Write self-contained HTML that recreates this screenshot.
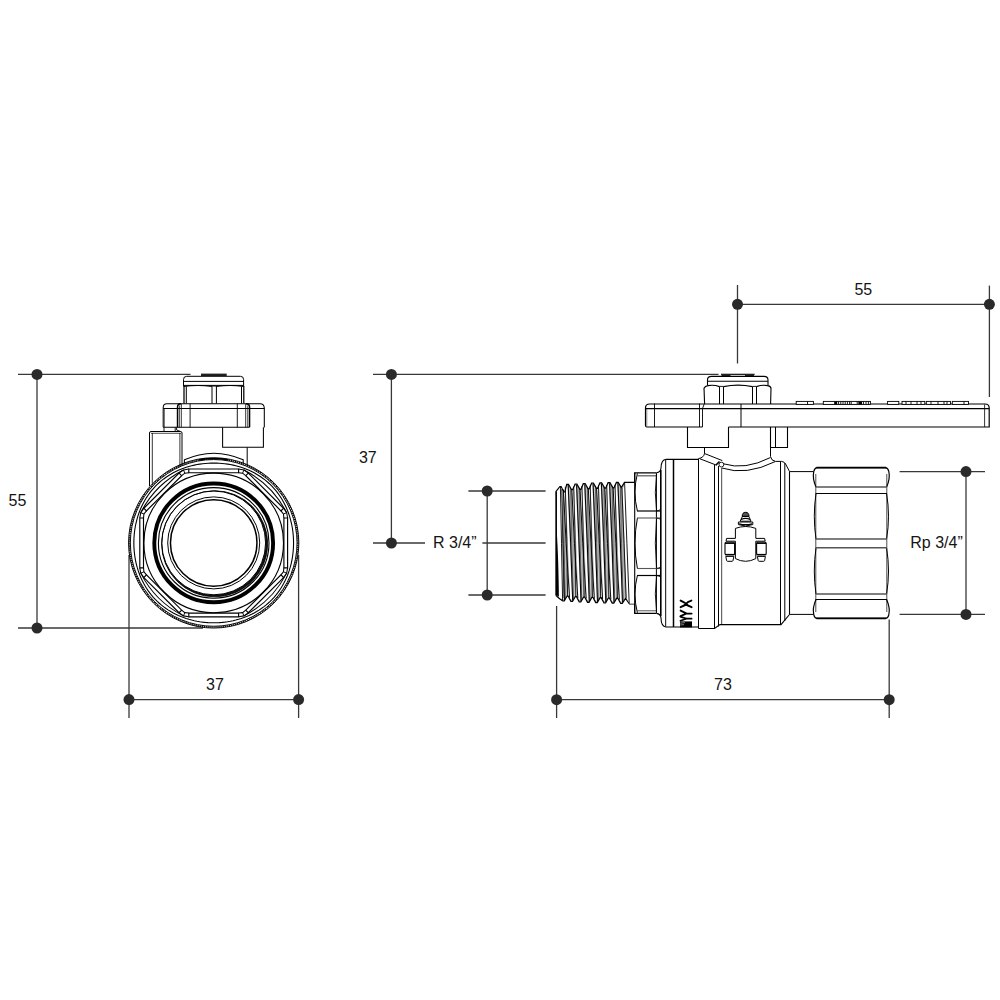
<!DOCTYPE html>
<html><head><meta charset="utf-8"><title>Ball valve dimensions</title>
<style>
html,body{margin:0;padding:0;background:#fff;}
body{width:1000px;height:1000px;overflow:hidden;font-family:"Liberation Sans",sans-serif;}
svg{display:block;font-family:"Liberation Sans",sans-serif;}
</style></head><body>
<svg width="1000" height="1000" viewBox="0 0 1000 1000">
<rect width="1000" height="1000" fill="#fff"/>
<g id="dims">
<line x1="18" y1="374.4" x2="190.5" y2="374.4" stroke="#383838" stroke-width="1.3" />
<line x1="18" y1="628" x2="203" y2="628" stroke="#383838" stroke-width="1.3" />
<line x1="37" y1="374.4" x2="37" y2="628" stroke="#383838" stroke-width="1.3" />
<circle cx="37" cy="374.4" r="5.5" fill="#2a2a2a"/>
<circle cx="37" cy="628" r="5.5" fill="#2a2a2a"/>
<text x="17.5" y="506" text-anchor="middle" font-size="16" fill="#141414">55</text>
<line x1="129" y1="555" x2="129" y2="718" stroke="#383838" stroke-width="1.3" />
<line x1="298.6" y1="555" x2="298.6" y2="718" stroke="#383838" stroke-width="1.3" />
<line x1="129" y1="699.6" x2="298.6" y2="699.6" stroke="#383838" stroke-width="1.3" />
<circle cx="129" cy="699.6" r="5.5" fill="#2a2a2a"/>
<circle cx="298.6" cy="699.6" r="5.5" fill="#2a2a2a"/>
<text x="215" y="689.8" text-anchor="middle" font-size="16" fill="#141414">37</text>
<line x1="373" y1="374.4" x2="718.5" y2="374.4" stroke="#383838" stroke-width="1.3" />
<line x1="391.4" y1="374.4" x2="391.4" y2="543" stroke="#383838" stroke-width="1.3" />
<line x1="373" y1="543" x2="425" y2="543" stroke="#383838" stroke-width="1.3" />
<line x1="482.4" y1="543" x2="545.6" y2="543" stroke="#383838" stroke-width="1.3" />
<circle cx="391.4" cy="374.4" r="5.5" fill="#2a2a2a"/>
<circle cx="391.4" cy="543" r="5.5" fill="#2a2a2a"/>
<text x="367.8" y="463" text-anchor="middle" font-size="16" fill="#141414">37</text>
<text x="454.8" y="547.8" text-anchor="middle" font-size="16" fill="#141414">R 3/4”</text>
<line x1="468.4" y1="491" x2="545.6" y2="491" stroke="#383838" stroke-width="1.3" />
<line x1="468.4" y1="595" x2="545.6" y2="595" stroke="#383838" stroke-width="1.3" />
<line x1="487.2" y1="491" x2="487.2" y2="595" stroke="#383838" stroke-width="1.3" />
<circle cx="487.2" cy="491" r="5.5" fill="#2a2a2a"/>
<circle cx="487.2" cy="595" r="5.5" fill="#2a2a2a"/>
<line x1="737.5" y1="285" x2="737.5" y2="363.5" stroke="#383838" stroke-width="1.3" />
<line x1="989.4" y1="285.6" x2="989.4" y2="397" stroke="#383838" stroke-width="1.3" />
<line x1="737.5" y1="304.3" x2="989.4" y2="304.3" stroke="#383838" stroke-width="1.3" />
<circle cx="737.5" cy="304.3" r="5.5" fill="#2a2a2a"/>
<circle cx="989.4" cy="304.3" r="5.5" fill="#2a2a2a"/>
<text x="863.3" y="295" text-anchor="middle" font-size="16" fill="#141414">55</text>
<line x1="556.6" y1="606" x2="556.6" y2="718" stroke="#383838" stroke-width="1.3" />
<line x1="889.2" y1="619.5" x2="889.2" y2="718" stroke="#383838" stroke-width="1.3" />
<line x1="556.6" y1="699.7" x2="889.2" y2="699.7" stroke="#383838" stroke-width="1.3" />
<circle cx="556.6" cy="699.7" r="5.5" fill="#2a2a2a"/>
<circle cx="889.2" cy="699.7" r="5.5" fill="#2a2a2a"/>
<text x="723" y="690" text-anchor="middle" font-size="16" fill="#141414">73</text>
<line x1="899.6" y1="471.6" x2="985" y2="471.6" stroke="#383838" stroke-width="1.3" />
<line x1="899.6" y1="614.4" x2="985" y2="614.4" stroke="#383838" stroke-width="1.3" />
<line x1="966" y1="471.6" x2="966" y2="614.4" stroke="#383838" stroke-width="1.3" />
<circle cx="966" cy="471.6" r="5.5" fill="#2a2a2a"/>
<circle cx="966" cy="614.4" r="5.5" fill="#2a2a2a"/>
<text x="936.5" y="547.8" text-anchor="middle" font-size="16" fill="#141414">Rp 3/4”</text>
</g>
<g id="leftview" fill="none" stroke="#000" stroke-width="1">
<path d="M149.5,486 V433 Q149.5,431.5 151,431.5 H180.5 Q182,431.5 182,433 V466" stroke="#000" stroke-width="1" fill="none" />
<line x1="152.3" y1="433" x2="152.3" y2="483.5" stroke="#000" stroke-width="0.8" />
<line x1="179.9" y1="433" x2="179.9" y2="467" stroke="#000" stroke-width="0.8" />
<line x1="151" y1="433.3" x2="181" y2="433.3" stroke="#000" stroke-width="0.7" />
<line x1="247.2" y1="447.3" x2="247.2" y2="466" stroke="#000" stroke-width="1" />
<path d="M184.4,463.5 V459.8 Q213.7,446.6 243.2,459.8 V463.5" stroke="#000" stroke-width="1.05" fill="none" />
<path d="M199,459.9 Q213.7,457.2 228.4,459.9" stroke="#000" stroke-width="1.6" fill="none" />
<circle cx="213.7" cy="542.9" r="85.15" stroke="#000" stroke-width="0.95" fill="none"/>
<circle cx="213.7" cy="542.9" r="83.35" stroke="#000" stroke-width="0.95" fill="none"/>
<circle cx="213.7" cy="542.9" r="84.25" stroke="#000" stroke-width="1.4" fill="none" stroke-dasharray="1.3 0.8" opacity="0.95"/>
<path d="M293.55,542.90 L293.51,545.69 L293.38,548.47 L293.17,551.25 L292.88,554.03 L292.50,556.79 L292.03,559.55 L291.48,562.29 L290.83,565.02 L290.10,567.72 L289.28,570.41 L288.36,573.07 L287.35,575.69 L286.25,578.29 L285.05,580.84 L283.76,583.35 L282.38,585.81 L280.90,588.22 L279.32,590.58 L277.66,592.87 L275.91,595.10 L274.07,597.26 L272.15,599.34 L270.14,601.35 L268.06,603.27 L265.90,605.11 L263.67,606.86 L261.38,608.52 L259.02,610.10 L256.61,611.58 L254.15,612.96 L251.64,614.25 L249.09,615.45 L246.49,616.55 L243.87,617.56 L241.21,618.48 L238.52,619.30 L235.82,620.03 L233.09,620.68 L230.35,621.23 L227.59,621.70 L224.83,622.08 L222.05,622.37 L219.27,622.58 L216.49,622.71 L213.70,622.75 L210.91,622.71 L208.13,622.58 L205.35,622.37 L202.57,622.08 L199.81,621.70 L197.05,621.23 L194.31,620.68 L191.58,620.03 L188.88,619.30 L186.19,618.48 L183.53,617.56 L180.91,616.55 L178.31,615.45 L175.76,614.25 L173.25,612.96 L170.79,611.58 L168.38,610.10 L166.02,608.52 L163.73,606.86 L161.50,605.11 L159.34,603.27 L157.26,601.35 L155.25,599.34 L153.33,597.26 L151.49,595.10 L149.74,592.87 L148.08,590.58 L146.50,588.22 L145.02,585.81 L143.64,583.35 L142.35,580.84 L141.15,578.29 L140.05,575.69 L139.04,573.07 L138.12,570.41 L137.30,567.72 L136.57,565.02 L135.92,562.29 L135.37,559.55 L134.90,556.79 L134.52,554.03 L134.23,551.25 L134.02,548.47 L133.89,545.69 L133.85,542.90 L133.89,540.11 L134.02,537.33 L134.23,534.55 L134.52,531.77 L134.90,529.01 L135.37,526.25 L135.92,523.51 L136.57,520.78 L137.30,518.08 L138.12,515.39 L139.04,512.73 L140.05,510.11 L141.15,507.51 L142.35,504.96 L143.64,502.45 L145.02,499.99 L146.50,497.58 L148.08,495.22 L149.74,492.93 L151.49,490.70 L153.33,488.54 L155.25,486.46 L157.26,484.45 L159.34,482.53 L161.50,480.69 L163.73,478.94 L166.02,477.28 L168.38,475.70 L170.79,474.22 L173.25,472.84 L175.76,471.55 L178.31,470.35 L180.91,469.25 L183.53,468.24 L186.19,467.32 L188.88,466.50 L191.58,465.77 L194.31,465.12 L197.05,464.57 L199.81,464.10 L202.57,463.72 L205.35,463.43 L208.13,463.22 L210.91,463.09 L213.70,463.05 L216.49,463.09 L219.27,463.22 L222.05,463.43 L224.83,463.72 L227.59,464.10 L230.35,464.57 L233.09,465.12 L235.82,465.77 L238.52,466.50 L241.21,467.32 L243.87,468.24 L246.49,469.25 L249.09,470.35 L251.64,471.55 L254.15,472.84 L256.61,474.22 L259.02,475.70 L261.38,477.28 L263.67,478.94 L265.90,480.69 L268.06,482.53 L270.14,484.45 L272.15,486.46 L274.07,488.54 L275.91,490.70 L277.66,492.93 L279.32,495.22 L280.90,497.58 L282.38,499.99 L283.76,502.45 L285.05,504.96 L286.25,507.51 L287.35,510.11 L288.36,512.73 L289.28,515.39 L290.10,518.08 L290.83,520.78 L291.48,523.51 L292.03,526.25 L292.50,529.01 L292.88,531.77 L293.17,534.55 L293.38,537.33 L293.51,540.11 Z" stroke="#000" stroke-width="1.1" fill="none" />
<circle cx="213.7" cy="542.9" r="69.8" stroke="#000" stroke-width="1.1" fill="none"/>
<circle cx="213.7" cy="542.9" r="59.4" stroke="#000" stroke-width="3.9" fill="none"/>
<circle cx="213.7" cy="542.9" r="55.3" stroke="#000" stroke-width="1.1" fill="none"/>
<path fill-rule="evenodd" fill="#111" stroke="none" d="M161.59999999999997,543.8 a53.05,53.05 0 1,0 106.1,0 a53.05,53.05 0 1,0 -106.1,0 Z M161.79999999999998,542.9 a51.9,51.9 0 1,0 103.8,0 a51.9,51.9 0 1,0 -103.8,0 Z"/>
<circle cx="213.7" cy="542.9" r="51.9" stroke="#000" stroke-width="1.0" fill="none"/>
<circle cx="214.64999999999998" cy="543.8" r="53.05" stroke="#000" stroke-width="0.8" fill="none"/>
<circle cx="213.7" cy="542.9" r="46.0" stroke="#000" stroke-width="1.0" fill="none"/>
<circle cx="213.7" cy="542.9" r="43.25" stroke="#000" stroke-width="1.5" fill="none"/>
<path d="M188.80,469.00 L238.60,469.00 L238.60,472.70 L188.80,472.70 Z" stroke="#000" stroke-width="1.15" fill="none" />
<path d="M188.80,469.00 L183.47,469.92 L179.05,473.04" stroke="#000" stroke-width="1.05" fill="none" />
<path d="M188.80,472.70 L184.81,473.16 L181.67,475.65" stroke="#000" stroke-width="1.05" fill="none" />
<line x1="183.47" y1="469.92" x2="184.81" y2="473.16" stroke="#000" stroke-width="0.95" />
<path d="M143.84,508.25 L179.05,473.04 L181.67,475.65 L146.45,510.87 Z" stroke="#000" stroke-width="1.15" fill="none" />
<path d="M143.84,508.25 L140.72,512.67 L139.80,518.00" stroke="#000" stroke-width="1.05" fill="none" />
<path d="M146.45,510.87 L143.96,514.01 L143.50,518.00" stroke="#000" stroke-width="1.05" fill="none" />
<line x1="140.72" y1="512.67" x2="143.96" y2="514.01" stroke="#000" stroke-width="0.95" />
<path d="M183.47,469.92 Q155.13,484.33 140.72,512.67" stroke="#000" stroke-width="1.05" fill="none" />
<path d="M139.80,567.80 L139.80,518.00 L143.50,518.00 L143.50,567.80 Z" stroke="#000" stroke-width="1.15" fill="none" />
<path d="M139.80,567.80 L140.72,573.13 L143.84,577.55" stroke="#000" stroke-width="1.05" fill="none" />
<path d="M143.50,567.80 L143.96,571.79 L146.45,574.93" stroke="#000" stroke-width="1.05" fill="none" />
<line x1="140.72" y1="573.13" x2="143.96" y2="571.79" stroke="#000" stroke-width="0.95" />
<path d="M179.05,612.76 L143.84,577.55 L146.45,574.93 L181.67,610.15 Z" stroke="#000" stroke-width="1.15" fill="none" />
<path d="M179.05,612.76 L183.47,615.88 L188.80,616.80" stroke="#000" stroke-width="1.05" fill="none" />
<path d="M181.67,610.15 L184.81,612.64 L188.80,613.10" stroke="#000" stroke-width="1.05" fill="none" />
<line x1="183.47" y1="615.88" x2="184.81" y2="612.64" stroke="#000" stroke-width="0.95" />
<path d="M140.72,573.13 Q155.13,601.47 183.47,615.88" stroke="#000" stroke-width="1.05" fill="none" />
<path d="M238.60,616.80 L188.80,616.80 L188.80,613.10 L238.60,613.10 Z" stroke="#000" stroke-width="1.15" fill="none" />
<path d="M238.60,616.80 L243.93,615.88 L248.35,612.76" stroke="#000" stroke-width="1.05" fill="none" />
<path d="M238.60,613.10 L242.59,612.64 L245.73,610.15" stroke="#000" stroke-width="1.05" fill="none" />
<line x1="243.93" y1="615.88" x2="242.59" y2="612.64" stroke="#000" stroke-width="0.95" />
<path d="M283.56,577.55 L248.35,612.76 L245.73,610.15 L280.95,574.93 Z" stroke="#000" stroke-width="1.15" fill="none" />
<path d="M283.56,577.55 L286.68,573.13 L287.60,567.80" stroke="#000" stroke-width="1.05" fill="none" />
<path d="M280.95,574.93 L283.44,571.79 L283.90,567.80" stroke="#000" stroke-width="1.05" fill="none" />
<line x1="286.68" y1="573.13" x2="283.44" y2="571.79" stroke="#000" stroke-width="0.95" />
<path d="M243.93,615.88 Q272.27,601.47 286.68,573.13" stroke="#000" stroke-width="1.05" fill="none" />
<path d="M287.60,518.00 L287.60,567.80 L283.90,567.80 L283.90,518.00 Z" stroke="#000" stroke-width="1.15" fill="none" />
<path d="M287.60,518.00 L286.68,512.67 L283.56,508.25" stroke="#000" stroke-width="1.05" fill="none" />
<path d="M283.90,518.00 L283.44,514.01 L280.95,510.87" stroke="#000" stroke-width="1.05" fill="none" />
<line x1="286.68" y1="512.67" x2="283.44" y2="514.01" stroke="#000" stroke-width="0.95" />
<path d="M248.35,473.04 L283.56,508.25 L280.95,510.87 L245.73,475.65 Z" stroke="#000" stroke-width="1.15" fill="none" />
<path d="M248.35,473.04 L243.93,469.92 L238.60,469.00" stroke="#000" stroke-width="1.05" fill="none" />
<path d="M245.73,475.65 L242.59,473.16 L238.60,472.70" stroke="#000" stroke-width="1.05" fill="none" />
<line x1="243.93" y1="469.92" x2="242.59" y2="473.16" stroke="#000" stroke-width="0.95" />
<path d="M286.68,512.67 Q272.27,484.33 243.93,469.92" stroke="#000" stroke-width="1.05" fill="none" />
<rect x="201" y="373.6" width="25.7" height="2.4" fill="#222" stroke="none"/>
<path d="M183.5,386 V379.5 Q183.5,376.3 186.7,376.3 H240.4 Q243.6,376.3 243.6,379.5 V386" stroke="#000" stroke-width="1" fill="none" />
<line x1="183.5" y1="381.4" x2="243.7" y2="381.4" stroke="#000" stroke-width="1" />
<line x1="183.5" y1="385.4" x2="243.7" y2="385.4" stroke="#000" stroke-width="1" />
<path d="M183.5,386.4 Q198,384.6 212,386.4 M216,386.4 Q230,384.6 243.6,386.4" stroke="#000" stroke-width="1.2" fill="none" />
<line x1="212" y1="386" x2="216" y2="386" stroke="#000" stroke-width="1" />
<line x1="184.0" y1="386" x2="184.0" y2="403.5" stroke="#000" stroke-width="1.25" />
<line x1="186.3" y1="386.5" x2="186.3" y2="403.5" stroke="#000" stroke-width="1.0" />
<line x1="212" y1="386.5" x2="212" y2="403.5" stroke="#000" stroke-width="1.0" />
<line x1="216.4" y1="386.5" x2="216.4" y2="403.5" stroke="#000" stroke-width="1.0" />
<line x1="241.5" y1="386.5" x2="241.5" y2="403.5" stroke="#000" stroke-width="1.0" />
<line x1="243.8" y1="386" x2="243.8" y2="403.5" stroke="#000" stroke-width="1.25" />
<path d="M163.2,427.3 V407.5 Q163.2,403.7 167,403.7 H260 Q264.3,403.7 264.3,408.4 V427.6" stroke="#000" stroke-width="1.05" fill="none" />
<line x1="163.2" y1="427.3" x2="249.5" y2="427.3" stroke="#000" stroke-width="1.1" />
<line x1="164.4" y1="408" x2="164.4" y2="427" stroke="#000" stroke-width="0.6" />
<path d="M177.5,427.3 V407 Q177.5,403.8 181,403.8" stroke="#000" stroke-width="1.4" fill="none" />
<path d="M249.6,427.3 V407 Q249.6,403.8 246,403.8" stroke="#000" stroke-width="1.4" fill="none" />
<line x1="179.3" y1="405.5" x2="179.3" y2="427.3" stroke="#000" stroke-width="0.8" />
<line x1="181.3" y1="404" x2="181.3" y2="427.3" stroke="#000" stroke-width="0.8" />
<line x1="190.1" y1="403.8" x2="190.1" y2="427.3" stroke="#000" stroke-width="0.9" />
<line x1="237.3" y1="403.8" x2="237.3" y2="427.3" stroke="#000" stroke-width="0.9" />
<line x1="245.7" y1="404" x2="245.7" y2="427.3" stroke="#000" stroke-width="0.8" />
<line x1="247.8" y1="405.5" x2="247.8" y2="427.3" stroke="#000" stroke-width="0.8" />
<line x1="163.2" y1="408.5" x2="264.5" y2="408.5" stroke="#000" stroke-width="1" />
<path d="M222.6,427.3 V447.3 H263.4 V427.3" stroke="#000" stroke-width="1.05" fill="none" />
<path d="M164,427.3 V431.5 M175.2,427.3 V431.5 M176.6,427.3 V430 L180.6,431.5" stroke="#000" stroke-width="0.9" fill="none" />
</g>
<g id="rightview" fill="none" stroke="#000" stroke-width="1">
<path d="M556.00,491.50 L559.90,486.50 L561.10,486.50 L563.85,491.90 L564.85,491.90 L566.70,484.30 L568.50,484.30 L571.60,489.70 L572.60,489.70 L575.10,484.00 L576.90,484.00 L579.90,489.40 L580.90,489.40 L583.30,483.50 L585.10,483.50 L588.15,488.90 L589.15,488.90 L591.60,483.00 L593.40,483.00 L596.45,488.40 L597.45,488.40 L599.90,482.80 L601.70,482.80 L604.70,488.20 L605.70,488.20 L608.10,482.50 L609.90,482.50 L612.95,487.90 L613.95,487.90 L616.40,482.30 L618.20,482.30 L621.30,487.60 L624.50,482.40 L629.50,604.00 L625.50,598.50 L622.30,603.50 L620.70,603.50 L617.75,598.20 L616.75,598.20 L613.80,603.20 L612.20,603.20 L609.40,598.00 L608.40,598.00 L605.60,603.00 L604.00,603.00 L601.15,597.60 L600.15,597.60 L597.30,602.60 L595.70,602.60 L592.90,597.30 L591.90,597.30 L589.10,602.30 L587.50,602.30 L584.65,597.00 L583.65,597.00 L580.80,602.00 L579.20,602.00 L576.35,596.50 L575.35,596.50 L572.50,601.50 L570.90,601.50 L568.10,596.00 L567.10,596.00 L564.30,601.00 L562.70,601.00 L559.00,598.20 L556.00,595.50 Z" fill="#a2a2a2" stroke="none" opacity="1"/>
<path d="M556.60,491.70 L557.80,490.20 L561.20,597.70 L559.90,596.20 Z" fill="#fff" stroke="none" opacity="1"/>
<path d="M558.60,489.50 L560.40,487.70 L563.90,599.80 L561.80,598.00 Z" fill="#fff" stroke="none" opacity="1"/>
<path d="M562.20,490.50 L563.20,490.50 L566.70,596.20 L565.50,596.20 Z" fill="#fff" stroke="none" opacity="0.6"/>
<path d="M563.70,489.50 L564.90,488.00 L569.40,598.20 L568.10,596.70 Z" fill="#fff" stroke="none" opacity="1"/>
<path d="M565.70,487.30 L567.50,485.50 L572.10,600.30 L570.00,598.50 Z" fill="#fff" stroke="none" opacity="1"/>
<path d="M569.30,488.30 L570.30,488.30 L574.90,596.70 L573.70,596.70 Z" fill="#fff" stroke="none" opacity="0.6"/>
<path d="M572.10,489.20 L573.30,487.70 L577.70,598.70 L576.40,597.20 Z" fill="#fff" stroke="none" opacity="1"/>
<path d="M574.10,487.00 L575.90,485.20 L580.40,600.80 L578.30,599.00 Z" fill="#fff" stroke="none" opacity="1"/>
<path d="M577.70,488.00 L578.70,488.00 L583.20,597.20 L582.00,597.20 Z" fill="#fff" stroke="none" opacity="0.6"/>
<path d="M580.30,488.70 L581.50,487.20 L586.00,599.00 L584.70,597.50 Z" fill="#fff" stroke="none" opacity="1"/>
<path d="M582.30,486.50 L584.10,484.70 L588.70,601.10 L586.60,599.30 Z" fill="#fff" stroke="none" opacity="1"/>
<path d="M585.90,487.50 L586.90,487.50 L591.50,597.50 L590.30,597.50 Z" fill="#fff" stroke="none" opacity="0.6"/>
<path d="M588.60,488.20 L589.80,486.70 L594.20,599.30 L592.90,597.80 Z" fill="#fff" stroke="none" opacity="1"/>
<path d="M590.60,486.00 L592.40,484.20 L596.90,601.40 L594.80,599.60 Z" fill="#fff" stroke="none" opacity="1"/>
<path d="M594.20,487.00 L595.20,487.00 L599.70,597.80 L598.50,597.80 Z" fill="#fff" stroke="none" opacity="0.6"/>
<path d="M596.90,488.00 L598.10,486.50 L602.50,599.70 L601.20,598.20 Z" fill="#fff" stroke="none" opacity="1"/>
<path d="M598.90,485.80 L600.70,484.00 L605.20,601.80 L603.10,600.00 Z" fill="#fff" stroke="none" opacity="1"/>
<path d="M602.50,486.80 L603.50,486.80 L608.00,598.20 L606.80,598.20 Z" fill="#fff" stroke="none" opacity="0.6"/>
<path d="M605.10,487.70 L606.30,486.20 L610.70,599.90 L609.40,598.40 Z" fill="#fff" stroke="none" opacity="1"/>
<path d="M607.10,485.50 L608.90,483.70 L613.40,602.00 L611.30,600.20 Z" fill="#fff" stroke="none" opacity="1"/>
<path d="M610.70,486.50 L611.70,486.50 L616.20,598.40 L615.00,598.40 Z" fill="#fff" stroke="none" opacity="0.6"/>
<path d="M613.40,487.50 L614.60,486.00 L619.20,600.20 L617.90,598.70 Z" fill="#fff" stroke="none" opacity="1"/>
<path d="M615.40,485.30 L617.20,483.50 L621.90,602.30 L619.80,600.50 Z" fill="#fff" stroke="none" opacity="1"/>
<path d="M619.00,486.30 L620.00,486.30 L624.70,598.70 L623.50,598.70 Z" fill="#fff" stroke="none" opacity="0.6"/>
<path d="M556.30,491.70 Q558.20,544.45 561.30,597.20" stroke="#000" stroke-width="0.95" fill="none"/>
<path d="M558.20,489.00 Q559.50,542.60 559.40,596.20" stroke="#000" stroke-width="0.85" fill="none"/>
<path d="M561.10,487.30 Q563.20,543.75 564.50,600.20" stroke="#000" stroke-width="1.0" fill="none"/>
<path d="M563.50,490.10 Q563.90,544.55 565.30,599.00" stroke="#333" stroke-width="0.7" fill="none"/>
<path d="M563.40,489.50 Q565.85,543.60 569.50,597.70" stroke="#000" stroke-width="0.95" fill="none"/>
<path d="M565.30,486.80 Q567.15,541.75 567.60,596.70" stroke="#000" stroke-width="0.85" fill="none"/>
<path d="M568.20,485.10 Q570.85,542.90 572.70,600.70" stroke="#000" stroke-width="1.0" fill="none"/>
<path d="M570.60,487.90 Q571.55,543.70 573.50,599.50" stroke="#333" stroke-width="0.7" fill="none"/>
<path d="M571.80,489.20 Q574.20,543.70 577.80,598.20" stroke="#000" stroke-width="0.95" fill="none"/>
<path d="M573.70,486.50 Q575.50,541.85 575.90,597.20" stroke="#000" stroke-width="0.85" fill="none"/>
<path d="M576.60,484.80 Q579.20,543.00 581.00,601.20" stroke="#000" stroke-width="1.0" fill="none"/>
<path d="M579.00,487.60 Q579.90,543.80 581.80,600.00" stroke="#333" stroke-width="0.7" fill="none"/>
<path d="M580.00,488.70 Q582.45,543.60 586.10,598.50" stroke="#000" stroke-width="0.95" fill="none"/>
<path d="M581.90,486.00 Q583.75,541.75 584.20,597.50" stroke="#000" stroke-width="0.85" fill="none"/>
<path d="M584.80,484.30 Q587.45,542.90 589.30,601.50" stroke="#000" stroke-width="1.0" fill="none"/>
<path d="M587.20,487.10 Q588.15,543.70 590.10,600.30" stroke="#333" stroke-width="0.7" fill="none"/>
<path d="M588.30,488.20 Q590.70,543.50 594.30,598.80" stroke="#000" stroke-width="0.95" fill="none"/>
<path d="M590.20,485.50 Q592.00,541.65 592.40,597.80" stroke="#000" stroke-width="0.85" fill="none"/>
<path d="M593.10,483.80 Q595.70,542.80 597.50,601.80" stroke="#000" stroke-width="1.0" fill="none"/>
<path d="M595.50,486.60 Q596.40,543.60 598.30,600.60" stroke="#333" stroke-width="0.7" fill="none"/>
<path d="M596.60,488.00 Q599.00,543.60 602.60,599.20" stroke="#000" stroke-width="0.95" fill="none"/>
<path d="M598.50,485.30 Q600.30,541.75 600.70,598.20" stroke="#000" stroke-width="0.85" fill="none"/>
<path d="M601.40,483.60 Q604.00,542.90 605.80,602.20" stroke="#000" stroke-width="1.0" fill="none"/>
<path d="M603.80,486.40 Q604.70,543.70 606.60,601.00" stroke="#333" stroke-width="0.7" fill="none"/>
<path d="M604.80,487.70 Q607.20,543.55 610.80,599.40" stroke="#000" stroke-width="0.95" fill="none"/>
<path d="M606.70,485.00 Q608.50,541.70 608.90,598.40" stroke="#000" stroke-width="0.85" fill="none"/>
<path d="M609.60,483.30 Q612.20,542.85 614.00,602.40" stroke="#000" stroke-width="1.0" fill="none"/>
<path d="M612.00,486.10 Q612.90,543.65 614.80,601.20" stroke="#333" stroke-width="0.7" fill="none"/>
<path d="M613.10,487.50 Q615.60,543.60 619.30,599.70" stroke="#000" stroke-width="0.95" fill="none"/>
<path d="M615.00,484.80 Q616.90,541.75 617.40,598.70" stroke="#000" stroke-width="0.85" fill="none"/>
<path d="M617.90,483.10 Q620.60,542.90 622.50,602.70" stroke="#000" stroke-width="1.0" fill="none"/>
<path d="M620.30,485.90 Q621.30,543.70 623.30,601.50" stroke="#333" stroke-width="0.7" fill="none"/>
<path d="M556,595.5 V491.5 L559.90,486.50 L561.10,486.50 L563.85,491.90 L564.85,491.90 L566.70,484.30 L568.50,484.30 L571.60,489.70 L572.60,489.70 L575.10,484.00 L576.90,484.00 L579.90,489.40 L580.90,489.40 L583.30,483.50 L585.10,483.50 L588.15,488.90 L589.15,488.90 L591.60,483.00 L593.40,483.00 L596.45,488.40 L597.45,488.40 L599.90,482.80 L601.70,482.80 L604.70,488.20 L605.70,488.20 L608.10,482.50 L609.90,482.50 L612.95,487.90 L613.95,487.90 L616.40,482.30 L618.20,482.30 L621.30,487.60 L624.50,482.40 H634.5" stroke="#000" stroke-width="1.2" fill="none" stroke-linejoin="miter"/>
<path d="M556.00,595.50 L559.00,598.20 L562.70,601.00 L564.30,601.00 L567.10,596.00 L568.10,596.00 L570.90,601.50 L572.50,601.50 L575.35,596.50 L576.35,596.50 L579.20,602.00 L580.80,602.00 L583.65,597.00 L584.65,597.00 L587.50,602.30 L589.10,602.30 L591.90,597.30 L592.90,597.30 L595.70,602.60 L597.30,602.60 L600.15,597.60 L601.15,597.60 L604.00,603.00 L605.60,603.00 L608.40,598.00 L609.40,598.00 L612.20,603.20 L613.80,603.20 L616.75,598.20 L617.75,598.20 L620.70,603.50 L622.30,603.50 L625.50,598.50 L629.50,604.00 H634.5" stroke="#000" stroke-width="1.2" fill="none" stroke-linejoin="miter"/>
<path d="M556.60,491.80 L560.00,487.60 L561.60,488.60 L563.20,597.00 L561.40,599.20 L556.60,595.00 Z" fill="#fff" stroke="none" opacity="1"/>
<path d="M560.40,487.00 Q561.50,543.60 562.60,600.20" stroke="#000" stroke-width="0.9" fill="none"/>
<path d="M561.90,489.00 Q562.90,543.50 563.90,598.00" stroke="#222" stroke-width="0.8" fill="none"/>
<path d="M556.4,491.5 V595.5" stroke="#000" stroke-width="1.1" fill="none" />
<path d="M556.2,527 Q558.2,545 558.9,596.8 L556.2,595 Z" fill="#000" stroke="none"/>
<path d="M622.60,489.00 L625.00,483.20 L634.00,483.20 L634.00,603.40 L629.60,603.40 L626.40,598.00 Z" fill="#fff" stroke="none" opacity="1"/>
<path d="M624.60,482.80 Q626.90,543.15 629.20,603.50" stroke="#000" stroke-width="0.9" fill="none"/>
<path d="M621.90,488.00 Q624.05,543.25 626.20,598.50" stroke="#000" stroke-width="0.9" fill="none"/>
<path d="M634.7,482.4 V472.8 H656.4" stroke="#000" stroke-width="1.2" fill="none" />
<path d="M634.7,603.6 V613.4 H656.4" stroke="#000" stroke-width="1.2" fill="none" />
<line x1="634.7" y1="472.8" x2="634.7" y2="613.4" stroke="#000" stroke-width="1.1" />
<line x1="637.5" y1="475.8" x2="656.4" y2="475.8" stroke="#555" stroke-width="1.2" />
<line x1="637.5" y1="610.8" x2="656.4" y2="610.8" stroke="#555" stroke-width="1.0" />
<path d="M637.4,473.4 Q632.6,492.2 637.4,511" stroke="#000" stroke-width="1.0" fill="none" />
<path d="M637.4,518 Q632.6,543.25 637.4,568.5" stroke="#000" stroke-width="1.0" fill="none" />
<path d="M637.4,575.5 Q632.6,594.15 637.4,612.8" stroke="#000" stroke-width="1.0" fill="none" />
<line x1="656.4" y1="472.8" x2="656.4" y2="613.4" stroke="#000" stroke-width="1.0" />
<path d="M656.6,474 Q654.0,492.5 656.6,511" stroke="#000" stroke-width="0.9" fill="none" />
<path d="M656.6,518 Q654.0,543.25 656.6,568.5" stroke="#000" stroke-width="0.9" fill="none" />
<path d="M656.6,575.5 Q654.0,593.75 656.6,612" stroke="#000" stroke-width="0.9" fill="none" />
<line x1="637" y1="511" x2="660.5" y2="511" stroke="#000" stroke-width="1.2" />
<line x1="637" y1="518" x2="660.5" y2="518" stroke="#555" stroke-width="1.1" />
<line x1="637" y1="568.5" x2="660.5" y2="568.5" stroke="#555" stroke-width="1.1" />
<line x1="637" y1="575.5" x2="660.5" y2="575.5" stroke="#000" stroke-width="1.2" />
<path d="M656.4,511 Q659,510.6 660.6,509.4 M656.4,518 Q659,518.4 660.6,519.4 M656.4,568.5 Q659,568.1 660.6,567 M656.4,575.5 Q659,575.9 660.6,577" stroke="#000" stroke-width="0.8" fill="none" />
<path d="M656.5,472.8 Q660.6,472.2 661,468 Q661.2,459.6 666,459.4 H698.5" stroke="#000" stroke-width="1.1" fill="none" />
<path d="M656.5,613.4 Q660.6,614 661,618 Q661.2,626.8 666,627 H698.5" stroke="#000" stroke-width="1.1" fill="none" />
<line x1="660.8" y1="470" x2="660.8" y2="616" stroke="#000" stroke-width="1.6" />
<line x1="665.6" y1="459.6" x2="665.6" y2="627" stroke="#333" stroke-width="1.2" />
<line x1="673.5" y1="459.6" x2="673.5" y2="627" stroke="#000" stroke-width="1.5" />
<line x1="698.5" y1="458.6" x2="698.5" y2="628.5" stroke="#000" stroke-width="1" />
<line x1="714.5" y1="465" x2="714.5" y2="628.5" stroke="#000" stroke-width="1" />
<line x1="718.5" y1="466" x2="718.5" y2="626.5" stroke="#000" stroke-width="1" />
<line x1="721.6" y1="468" x2="721.6" y2="624.5" stroke="#666" stroke-width="1.2" />
<path d="M698.5,628.5 H714.5 L720,624.6 H781 L789.5,614.5" stroke="#000" stroke-width="1.1" fill="none" />
<path d="M704.5,447.5 V453.5 Q703.8,457.6 698.5,458.6" stroke="#000" stroke-width="1" fill="none" />
<path d="M704.5,453.5 L722.3,460.6" stroke="#000" stroke-width="1" fill="none" />
<path d="M700,458.8 L716.5,465.2" stroke="#000" stroke-width="1" fill="none" />
<circle cx="721.4" cy="464.6" r="2.4" stroke="#000" stroke-width="0.9" fill="none"/>
<path d="M716,465 L719.5,461.5" stroke="#000" stroke-width="1.6" fill="none" />
<path d="M723.4,463.8 Q745,470.5 770.3,457.6" stroke="#000" stroke-width="1" fill="none" />
<path d="M721.8,468 Q746,476 775.2,461.6" stroke="#000" stroke-width="1" fill="none" />
<path d="M770.5,447.5 V456.5 Q771,460.6 775.5,461.4 H781.5 Q784.3,461.6 785.6,464 L789.5,471.5" stroke="#000" stroke-width="1" fill="none" />
<line x1="780.5" y1="461.5" x2="780.5" y2="624.5" stroke="#000" stroke-width="1" />
<line x1="784.8" y1="463" x2="784.8" y2="621" stroke="#000" stroke-width="1" />
<line x1="789.5" y1="471.5" x2="789.5" y2="614.5" stroke="#000" stroke-width="1.1" />
<line x1="789.5" y1="471.6" x2="813.5" y2="471.6" stroke="#000" stroke-width="1" />
<line x1="789.5" y1="614.4" x2="813.5" y2="614.4" stroke="#000" stroke-width="1" />
<path d="M816,487 Q812.2,478.5 813.8,471.4 Q814.6,467.9 817.2,467.7 H885.4 Q888,467.9 888.8,471.4 Q890.4,478.5 886.6,487" stroke="#000" stroke-width="1.2" fill="none" />
<path d="M816,599.5 Q812.2,608 813.8,614.8 Q814.6,618.2 817.2,618.4 H885.4 Q888,618.2 888.8,614.8 Q890.4,608 886.6,599.5" stroke="#000" stroke-width="1.2" fill="none" />
<line x1="816.5" y1="467.6" x2="886" y2="467.6" stroke="#000" stroke-width="1.7" />
<line x1="816.5" y1="618.4" x2="886" y2="618.4" stroke="#000" stroke-width="1.7" />
<path d="M816,493.5 Q812.6,516.25 816,539" stroke="#000" stroke-width="1" fill="none" />
<path d="M816,548 Q812.6,571.0 816,594" stroke="#000" stroke-width="1" fill="none" />
<path d="M886.6,493.5 Q890.4,516.25 886.6,539" stroke="#000" stroke-width="1" fill="none" />
<path d="M886.6,548 Q890.4,571.0 886.6,594" stroke="#000" stroke-width="1" fill="none" />
<line x1="815.8" y1="474" x2="815.8" y2="612" stroke="#000" stroke-width="0.7" />
<line x1="886.8" y1="474" x2="886.8" y2="612" stroke="#000" stroke-width="0.7" />
<line x1="815.6" y1="487" x2="887" y2="487" stroke="#555" stroke-width="1.4" />
<line x1="815.6" y1="493.5" x2="887" y2="493.5" stroke="#000" stroke-width="1.1" />
<line x1="815.6" y1="539" x2="887" y2="539" stroke="#555" stroke-width="1.4" />
<line x1="815.6" y1="547.8" x2="887" y2="547.8" stroke="#555" stroke-width="1.4" />
<line x1="815.6" y1="594" x2="887" y2="594" stroke="#555" stroke-width="1.4" />
<line x1="815.6" y1="599.5" x2="887" y2="599.5" stroke="#000" stroke-width="1.1" />
<g stroke="#000" stroke-width="1.9" fill="none" stroke-linecap="round">
<path d="M680.6,600.6 Q685,602.6 686,603.8 Q687.4,605.6 691.6,607.2 M680.6,607.2 Q684.6,605.6 686,603.8 Q687.4,602 691.4,600.6"/>
<path d="M680.6,610.6 L686.4,613.5 L680.6,616.2 M686.4,613.6 H691.6"/>
<path d="M680.4,616.6 L686.4,618.7 L680.4,620.8 M686.4,618.7 H691.6" stroke-width="1.7"/>
</g>
<rect x="680" y="621.4" width="12" height="6.0" fill="#000" stroke="none"/>
<path d="M680.2,623.2 L685,622.6 M680.2,625 L684,624.6" stroke="#fff" stroke-width="0.5" fill="none"/>
<path d="M742.2,516.4 Q742.2,512.3 745.6,512.3 Q749.0,512.3 749.0,516.4 Z" stroke="#000" stroke-width="1" fill="#555" />
<path d="M742.4,516.4 H748.8000000000001 L751.0,521.2 H740.2 Z" stroke="#000" stroke-width="1" fill="none" />
<path d="M741.0,519.6 Q745.6,517 750.2,519.6" stroke="#000" stroke-width="1.2" fill="none" />
<path d="M738.4,522 H752.8000000000001 V524.6 Q745.6,527.4 738.4,524.6 Z" stroke="#000" stroke-width="1" fill="none" />
<path d="M739.1,523.8 Q745.6,525.6 752.1,523.8" stroke="#000" stroke-width="1.2" fill="none" />
<path d="M735.4,538.4 V528.4 Q745.6,524.6 755.8000000000001,528.4 V538.4" stroke="#000" stroke-width="1" fill="none" />
<path d="M735.4,541.2 V558.6 Q745.6,564 755.8000000000001,558.6 V541.2" stroke="#000" stroke-width="1" fill="none" />
<path d="M735.4,538.4 H726.6 L726.0,541.2 H735.4" stroke="#000" stroke-width="1" fill="none" />
<path d="M755.8000000000001,538.4 H764.6 L765.2,541.2 H755.8000000000001" stroke="#000" stroke-width="1" fill="none" />
<rect x="725.0" y="542.2" width="9.600000000000023" height="12.6" rx="1.2" stroke="#000" stroke-width="1.1" fill="#fff"/>
<line x1="725.0" y1="543.4" x2="734.6" y2="543.4" stroke="#000" stroke-width="1.1" />
<line x1="725.0" y1="554.6" x2="734.6" y2="554.6" stroke="#000" stroke-width="1.4" />
<path d="M725.8,556.4 H733.8000000000001 L733.0,560.6 Q732.8000000000001,561.3 732.0,561.3 H727.6 Q726.8,561.3 726.6,560.6 Z" stroke="#000" stroke-width="1" fill="none" />
<rect x="756.6" y="542.2" width="9.600000000000023" height="12.6" rx="1.2" stroke="#000" stroke-width="1.1" fill="#fff"/>
<line x1="756.6" y1="543.4" x2="766.2" y2="543.4" stroke="#000" stroke-width="1.1" />
<line x1="756.6" y1="554.6" x2="766.2" y2="554.6" stroke="#000" stroke-width="1.4" />
<path d="M757.4,556.4 H765.4000000000001 L764.6,560.6 Q764.4000000000001,561.3 763.6,561.3 H759.2 Q758.4,561.3 758.2,560.6 Z" stroke="#000" stroke-width="1" fill="none" />
<rect x="721" y="373.7" width="33.6" height="1.3" fill="#222" stroke="none"/>
<rect x="721.5" y="374" width="9" height="2.3" fill="#222" stroke="none"/>
<rect x="745" y="374" width="9" height="2.3" fill="#222" stroke="none"/>
<path d="M707.5,385.5 V380 Q707.5,376.4 711.5,376.4 H764 Q768,376.4 768,380 V385.5" stroke="#000" stroke-width="1.1" fill="none" />
<line x1="707.5" y1="381.2" x2="768" y2="381.2" stroke="#000" stroke-width="1.1" />
<path d="M704,388.2 Q705,386 708,385.6 Q714,384.6 719.5,386.6 M723.5,386.6 Q738,383.6 752.5,386.6 M756.5,386.6 Q762,384.6 767.6,385.6 Q770.6,386 771,388.2" stroke="#000" stroke-width="1.2" fill="none" />
<line x1="719.5" y1="386.4" x2="723.5" y2="386.4" stroke="#000" stroke-width="0.9" />
<line x1="752.5" y1="386.4" x2="756.5" y2="386.4" stroke="#000" stroke-width="0.9" />
<line x1="704" y1="388" x2="704.6" y2="404" stroke="#000" stroke-width="1.1" />
<line x1="771" y1="388" x2="770.6" y2="404" stroke="#000" stroke-width="1.1" />
<line x1="719.5" y1="386.6" x2="719.5" y2="404" stroke="#000" stroke-width="1" />
<line x1="723.5" y1="386.6" x2="723.5" y2="404" stroke="#000" stroke-width="1" />
<line x1="752.5" y1="386.6" x2="752.5" y2="404" stroke="#000" stroke-width="1" />
<line x1="756.5" y1="386.6" x2="756.5" y2="404" stroke="#000" stroke-width="1" />
<path d="M702.5,427 H647 Q645.5,427 645.5,425.5 V408 Q645.5,404 649.5,404 H985 Q989.2,404 989.2,408 V427 H728.5" stroke="#000" stroke-width="1.2" fill="none" />
<line x1="645.5" y1="408.6" x2="989.2" y2="408.6" stroke="#000" stroke-width="1.1" />
<line x1="654.5" y1="403.6" x2="654.5" y2="427" stroke="#000" stroke-width="0.9" />
<line x1="646.8" y1="409" x2="646.8" y2="426" stroke="#444" stroke-width="0.6" />
<line x1="699.5" y1="403.6" x2="699.5" y2="427" stroke="#000" stroke-width="0.9" />
<path d="M702.5,427 V408.6 L704.2,404" stroke="#000" stroke-width="0.9" fill="none" />
<line x1="741" y1="404" x2="741" y2="427" stroke="#000" stroke-width="1" />
<line x1="984.6" y1="404.5" x2="984.6" y2="427" stroke="#000" stroke-width="0.8" />
<path d="M687.5,427 V447.5 H728.5 V427" stroke="#000" stroke-width="1.1" fill="none" />
<path d="M770.5,427 V447.5 H787.5 V427" stroke="#000" stroke-width="1.1" fill="none" />
<line x1="775.5" y1="427" x2="775.5" y2="447.5" stroke="#000" stroke-width="1" />
<rect x="796.2" y="401.4" width="17.199999999999932" height="3.0" stroke="#000" stroke-width="0.9" fill="#fff"/>
<rect x="823.3" y="401.4" width="47.10000000000002" height="3.0" stroke="#000" stroke-width="0.9" fill="#fff"/>
<rect x="887.6" y="401.4" width="11.199999999999932" height="3.0" stroke="#000" stroke-width="0.9" fill="#fff"/>
<rect x="902" y="401.4" width="22.799999999999955" height="3.0" stroke="#000" stroke-width="0.9" fill="#fff"/>
<rect x="926.3" y="401.4" width="24.200000000000045" height="3.0" stroke="#000" stroke-width="0.9" fill="#fff"/>
<rect x="952.3" y="401.4" width="16.200000000000045" height="3.0" stroke="#000" stroke-width="0.9" fill="#fff"/>
<line x1="807.5" y1="401.4" x2="807.5" y2="404.2" stroke="#000" stroke-width="0.9" />
<line x1="834.6" y1="401.4" x2="834.6" y2="404.2" stroke="#000" stroke-width="0.9" />
<line x1="836.5" y1="401.4" x2="836.5" y2="404.2" stroke="#000" stroke-width="0.9" />
<line x1="838.6" y1="401.4" x2="838.6" y2="404.2" stroke="#000" stroke-width="0.9" />
<line x1="840.8" y1="401.4" x2="840.8" y2="404.2" stroke="#000" stroke-width="0.9" />
<line x1="843" y1="401.4" x2="843" y2="404.2" stroke="#000" stroke-width="0.9" />
<line x1="845.2" y1="401.4" x2="845.2" y2="404.2" stroke="#000" stroke-width="0.9" />
<line x1="847.4" y1="401.4" x2="847.4" y2="404.2" stroke="#000" stroke-width="0.9" />
<line x1="849.6" y1="401.4" x2="849.6" y2="404.2" stroke="#000" stroke-width="0.9" />
<line x1="851.2" y1="401.4" x2="851.2" y2="404.2" stroke="#000" stroke-width="0.9" />
<line x1="857.2" y1="401.4" x2="857.2" y2="404.2" stroke="#000" stroke-width="0.9" />
<line x1="859" y1="401.4" x2="859" y2="404.2" stroke="#000" stroke-width="0.9" />
<line x1="861" y1="401.4" x2="861" y2="404.2" stroke="#000" stroke-width="0.9" />
<line x1="863.4" y1="401.4" x2="863.4" y2="404.2" stroke="#000" stroke-width="0.9" />
<line x1="866" y1="401.4" x2="866" y2="404.2" stroke="#000" stroke-width="0.9" />
<line x1="868.4" y1="401.4" x2="868.4" y2="404.2" stroke="#000" stroke-width="0.9" />
<line x1="906" y1="401.4" x2="906" y2="404.2" stroke="#000" stroke-width="0.9" />
<line x1="911" y1="401.4" x2="911" y2="404.2" stroke="#000" stroke-width="0.9" />
<line x1="917" y1="401.4" x2="917" y2="404.2" stroke="#000" stroke-width="0.9" />
<line x1="921" y1="401.4" x2="921" y2="404.2" stroke="#000" stroke-width="0.9" />
<line x1="931" y1="401.4" x2="931" y2="404.2" stroke="#000" stroke-width="0.9" />
<line x1="938" y1="401.4" x2="938" y2="404.2" stroke="#000" stroke-width="0.9" />
<line x1="944" y1="401.4" x2="944" y2="404.2" stroke="#000" stroke-width="0.9" />
<line x1="947" y1="401.4" x2="947" y2="404.2" stroke="#000" stroke-width="0.9" />
<line x1="964" y1="401.4" x2="964" y2="404.2" stroke="#000" stroke-width="0.9" />
<rect x="835" y="401.6" width="2.2" height="2.6" fill="#000" stroke="none"/>
<rect x="858.6" y="401.6" width="3.4" height="2.6" fill="#000" stroke="none"/>
</g>
</svg>
</body></html>
